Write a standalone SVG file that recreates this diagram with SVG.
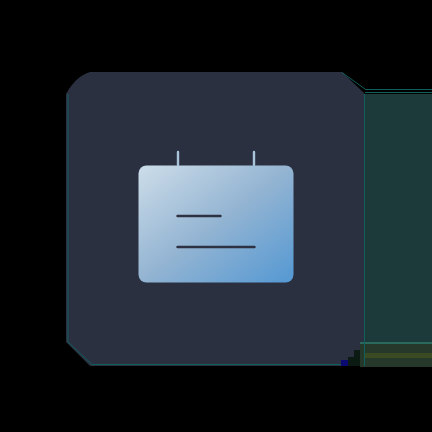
<svg xmlns="http://www.w3.org/2000/svg" width="432" height="432" viewBox="0 0 432 432">
  <style>
    .tick { stroke: #a9c3da; stroke-width: 2.400; stroke-linecap: round; fill: none; }
    .line { stroke: #2d3142; stroke-width: 2.400; stroke-linecap: round; fill: none; }
    .edge { stroke: #0f5f5c; stroke-width: 1; fill: none; }
  </style>
  <defs>
    <linearGradient id="cardFill" x1="0" y1="0" x2="1" y2="1">
      <stop offset="0" stop-color="#cddde9"/>
      <stop offset="0.5" stop-color="#93b4d2"/>
      <stop offset="1" stop-color="#5498d3"/>
    </linearGradient>
  </defs>
  <rect width="432" height="432" fill="#000000"/>
  <g id="edge-band">
    <rect x="365" y="94" width="67" height="248" fill="#1c3a3a"/>
    <rect x="360" y="342" width="72" height="25" fill="#26382a"/>
    <rect x="360" y="342" width="72" height="2" fill="#2a6a5c"/>
    <rect x="365" y="353" width="67" height="5" fill="#3a4a22"/>
    <rect x="341" y="360" width="7" height="6" fill="#0a0a70"/>
    <rect x="348" y="357" width="6" height="9" fill="#0c1a14"/>
    <rect x="354" y="350" width="6" height="16" fill="#0c1a14"/>
    <path class="edge" d="M365 89.500H432M365 92.500H432"/>
  </g>
  <g id="panel">
    <path d="M90 72H342L365 94V342H360V350H354V357H348V360H341V366H90L66 342V94Q76 76 90 72Z" fill="#2b3040"/>
    <path class="edge" d="M68 94V342L92 364.500H341M364.500 94V366M342 72.500L365 89"/>
  </g>
  <g id="card">
    <path class="tick" d="M178 152V165M254 152V165"/>
    <rect x="138.500" y="165.500" width="155" height="117" rx="8" fill="url(#cardFill)"/>
    <path class="line" d="M177.500 216H220.500M177.500 247H254.500"/>
  </g>
</svg>
